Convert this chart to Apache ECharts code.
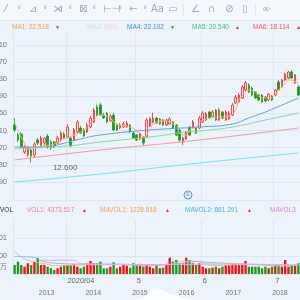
<!DOCTYPE html>
<html>
<head>
<meta charset="utf-8">
<script src="https://cdn.jsdelivr.net/npm/echarts@6/dist/echarts.min.js"></script>
<style>
html, body { margin: 0; padding: 0; background: #ecf3fb; }
#chart { width: 300px; height: 300px; }
</style>
</head>
<body>
<div id="chart"></div>
<script>
// trading days shown (2020)
const marDays = [10, 11, 12, 13, 16, 17, 18, 19, 20, 23, 24, 25, 26, 27, 30, 31];
const aprDays = [1, 2, 3, 6, 7, 8, 9, 13, 14, 15, 16, 17, 20, 21, 22, 23, 24, 27, 28, 29, 30];
const mayDays = [1, 4, 5, 6, 7, 8, 11, 12, 13, 14, 15, 18, 19, 20, 21, 22, 26, 27, 28, 29];
const junDays = [1, 2, 3, 4, 5, 8, 9, 10, 11, 12, 15, 16, 17, 18, 19, 22, 23, 24, 25, 26, 29, 30];
const julDays = [1, 2, 6, 7, 8, 9, 10, 13];
const monthLabels = { '2020-04-01': '2020/04', '2020-05-01': '5', '2020-06-01': '6', '2020-07-01': '7' };

// [open, close, low, high]
const candles = [
    [17.88, 17.18, 16.90, 18.86], [16.48, 15.78, 15.50, 16.76], [16.62, 14.80, 14.66, 16.90], [14.10, 14.80, 13.82, 15.08],
    [13.68, 14.66, 13.40, 14.94], [14.38, 13.54, 12.60, 14.66], [13.68, 15.22, 13.40, 15.50], [15.78, 15.36, 15.08, 16.06],
    [14.94, 16.06, 14.80, 16.34], [15.36, 16.06, 15.08, 16.20], [16.34, 14.80, 14.52, 16.62], [15.50, 14.66, 14.38, 15.78],
    [15.50, 14.94, 14.66, 15.64], [15.36, 16.06, 15.22, 16.34], [15.78, 16.76, 15.50, 17.04], [16.62, 16.06, 15.92, 16.90],
    [16.20, 17.60, 16.06, 18.02], [16.06, 14.94, 14.80, 16.34], [15.78, 17.18, 15.64, 17.46], [16.90, 18.30, 16.76, 18.58],
    [17.46, 16.76, 16.62, 17.74], [17.18, 16.34, 16.20, 17.46], [16.90, 17.88, 16.76, 18.16], [17.60, 18.86, 17.46, 19.14],
    [18.30, 19.98, 18.16, 20.26], [20.40, 19.28, 19.14, 20.68], [20.68, 19.28, 19.14, 20.96], [19.28, 18.86, 18.72, 19.56],
    [19.56, 18.30, 18.16, 19.70], [18.44, 19.14, 18.30, 19.42], [19.28, 17.18, 17.04, 19.56], [17.88, 17.18, 17.04, 18.02],
    [17.46, 17.88, 17.32, 18.16], [17.60, 18.02, 17.46, 18.30], [17.60, 18.16, 17.46, 18.44], [17.88, 16.90, 16.76, 18.02],
    [16.76, 16.06, 15.92, 16.90], [16.48, 15.78, 15.64, 16.62], [15.92, 16.62, 15.78, 16.76], [16.20, 15.36, 15.08, 16.34],
    [16.20, 18.58, 16.06, 18.86], [17.74, 18.72, 17.60, 19.00], [18.30, 18.86, 18.16, 19.56], [18.86, 18.16, 18.02, 19.00],
    [18.02, 18.72, 17.88, 18.86], [18.58, 17.88, 17.74, 18.72], [17.88, 18.58, 17.74, 18.72], [18.02, 18.72, 17.88, 19.00],
    [18.30, 17.46, 17.32, 18.44], [17.88, 16.48, 16.34, 18.02], [17.18, 15.78, 15.50, 17.32], [15.50, 16.06, 15.08, 16.20],
    [15.92, 16.90, 15.78, 17.04], [17.60, 16.48, 16.34, 17.74], [17.60, 18.30, 17.46, 18.58], [17.46, 16.76, 16.62, 17.60],
    [17.46, 18.86, 17.32, 19.14], [18.30, 19.56, 18.16, 19.84], [18.58, 19.42, 18.44, 19.70], [19.70, 18.86, 18.72, 19.84],
    [19.00, 19.70, 18.86, 19.98], [19.98, 18.58, 18.44, 20.12], [18.58, 19.98, 18.44, 20.26], [19.70, 18.86, 18.72, 19.84],
    [18.58, 19.70, 18.44, 19.98], [18.72, 19.56, 18.58, 19.84], [19.28, 20.68, 19.14, 20.96], [20.96, 21.80, 20.82, 22.08],
    [21.10, 22.08, 20.96, 22.36], [21.66, 23.20, 21.52, 23.48], [22.78, 23.76, 22.64, 24.04], [23.48, 22.50, 22.36, 23.76],
    [23.06, 22.08, 21.94, 23.20], [22.50, 21.66, 21.52, 22.64], [22.08, 21.38, 21.24, 22.22], [22.08, 21.10, 20.96, 22.22],
    [21.80, 21.24, 21.10, 21.94], [21.38, 22.22, 21.24, 22.36], [21.94, 21.38, 21.24, 22.08], [22.08, 22.78, 21.94, 22.92],
    [23.90, 22.78, 22.64, 24.18], [23.20, 24.18, 23.06, 24.32], [24.18, 25.02, 24.04, 25.16], [24.46, 25.30, 24.32, 25.44],
    [25.30, 24.46, 24.32, 25.58], [23.76, 24.88, 23.62, 25.02], [23.20, 22.08, 21.94, 23.48]
];

// moving averages as [dayIndex, value]
const ma1 = [[0, 18.30], [3, 15.36], [5, 14.66], [6, 14.66], [8, 14.94], [11, 15.08], [12, 15.22], [14, 15.78], [16, 16.06],
    [18, 16.48], [21, 17.18], [24, 18.58], [26, 19.28], [29, 18.86], [30, 18.30], [32, 17.88], [35, 17.60], [38, 16.76],
    [39, 16.20], [41, 17.18], [42, 18.02], [45, 18.44], [49, 17.74], [50, 16.76], [52, 16.48], [53, 17.18], [55, 17.60],
    [56, 18.30], [59, 18.86], [62, 19.00], [65, 19.14], [67, 19.98], [68, 21.38], [70, 22.36], [71, 22.78], [73, 22.50],
    [74, 21.94], [76, 21.66], [77, 21.66], [79, 22.08], [80, 22.78], [82, 23.62], [83, 24.18], [86, 23.76]];
const ma4 = [[0, 14.80], [10, 14.80], [14, 15.22], [20, 15.92], [26, 16.48], [41, 17.18], [56, 17.60], [66, 18.02], [71, 18.86], [76, 19.70], [86, 21.66]];
const ma5 = [[0, 14.52], [16, 14.94], [26, 15.50], [41, 16.20], [52, 16.90], [56, 17.04], [66, 17.60], [76, 18.58], [86, 19.56]];
const ma6 = [[0, 12.98], [26, 14.38], [56, 15.78], [86, 17.46]];
const ma7 = [[0, 9.90], [26, 11.02], [56, 12.56], [86, 13.96]];

const volumes = [950, 1300, 950, 770, 1130, 950, 1300, 1720, 950, 950, 770, 600, 420, 600, 770, 950, 950, 950, 1020, 770,
    600, 770, 1130, 1370, 1130, 1130, 1300, 600, 600, 770, 1230, 600, 770, 950, 880, 670, 1130, 950, 880, 770,
    950, 770, 600, 950, 600, 670, 950, 1720, 1300, 1480, 1130, 1130, 1720, 1480, 1130, 950, 1130, 770, 600, 600,
    670, 770, 600, 770, 950, 950, 1130, 1020, 950, 950, 1370, 770, 770, 770, 770, 600, 770, 600, 770, 950,
    950, 770, 1480, 770, 950, 950, 1130];
const mavol1 = [[0, 2350], [3, 1600], [6, 1300], [9, 1100], [12, 900], [20, 950], [30, 1000], [40, 900], [47, 1000],
    [50, 1300], [55, 1350], [60, 900], [70, 1000], [75, 950], [80, 850], [86, 950]];
const mavol2 = [[0, 1850], [5, 1800], [9, 1300], [12, 1150], [20, 1050], [30, 1050], [40, 950], [50, 1100], [55, 1300],
    [60, 1200], [70, 1050], [80, 950], [86, 950]];
const mavol3 = [[8, 1450], [18, 1450], [20, 1100], [30, 1000], [50, 1000], [60, 1050], [86, 950]];

const priceTicks = [9.9, 12.3, 14.7, 17.1, 19.5, 21.9, 24.3, 26.7, 29.1];
const volumeTicks = [1900, 3801];
const yearTicks = [2013, 2014, 2015, 2016, 2017, 2018];
const overview = [[2014.9, 0], [2015.1, 0.25], [2015.25, 0.6], [2015.4, 0.7], [2015.55, 0.5], [2015.75, 0.3], [2016.0, 0.1], [2016.3, 0]];

const maLegend = [
    { text: 'MA1: 22.518', color: '#f0a050', x: 12, w: 40, arrow: 'down' },
    { text: 'MA2:', color: '#c9e3f6', x: 87 },
    { text: 'MA3:', color: '#f0d0ec', x: 104 },
    { text: 'MA4: 22.102', color: '#3d86f0', x: 127, w: 40, arrow: 'down' },
    { text: 'MA5: 20.540', color: '#4cc27a', x: 192, w: 40, arrow: 'up' },
    { text: 'MA6: 18.114', color: '#f05a5a', x: 253, w: 40, arrow: 'up' }
];
const volLegend = [
    { text: 'VOL', color: '#333', x: 0 },
    { text: 'VOL1: 4373.517', color: '#f07f8f', x: 27, w: 52, arrow: 'up' },
    { text: 'MAVOL1: 1228.818', color: '#f0a050', x: 100, w: 62, arrow: 'up' },
    { text: 'MAVOL2: 861.291', color: '#4fb0ee', x: 185, w: 59, arrow: 'up' },
    { text: 'MAVOL3', color: '#e07ce0', x: 270 }
];
const toolIcons = [
    ['⁄', 5], ['∨', 17], ['⊿', 29], ['∨', 43], ['⋊', 53], ['∨', 68], ['⊠', 79], ['∨', 92],
    ['⊢⊣', 103], ['∨', 118], ['←', 129], ['∨', 143], ['Aa', 151], ['▭', 168], ['∠', 191], ['∩', 208],
    ['⊘', 225], ['▯', 242], ['∞', 262]
];

const dates = [].concat(
    marDays.map(d => '2020-03-' + String(d).padStart(2, '0')),
    aprDays.map(d => '2020-04-' + String(d).padStart(2, '0')),
    mayDays.map(d => '2020-05-' + String(d).padStart(2, '0')),
    junDays.map(d => '2020-06-' + String(d).padStart(2, '0')),
    julDays.map(d => '2020-07-' + String(d).padStart(2, '0'))
);

const FONT = 'Liberation Sans';
const gridLine = '#dbe7f4';
const upColor = '#f22';
const downColor = '#1d9a1d';
const isMonthStart = (idx, value) => monthLabels[value] !== undefined;

function legendTexts(items, y) {
    const out = [];
    items.forEach(item => {
        out.push({
            type: 'text', left: item.x, top: y,
            style: { text: item.text, fill: item.color, font: '6.5px ' + FONT }
        });
        if (item.arrow) {
            out.push({
                type: 'text', left: item.x + item.w + 3, top: y + 1,
                style: { text: item.arrow === 'up' ? '▲' : '▼', fill: item.arrow === 'up' ? '#f22' : '#1d9a1d', font: '5px ' + FONT }
            });
        }
    });
    return out;
}

const chart = echarts.init(document.getElementById('chart'));

const graphic = [
    { type: 'rect', left: 0, top: 0, shape: { width: 300, height: 20 }, style: { fill: '#f4f7fb' }, z: -1 },
    { type: 'line', shape: { x1: 0, y1: 20.5, x2: 300, y2: 20.5 }, style: { stroke: '#dfe7f1', lineWidth: 1 } },
    { type: 'line', shape: { x1: 183.5, y1: 4, x2: 183.5, y2: 16 }, style: { stroke: '#dfe7f1', lineWidth: 1 } },
    { type: 'line', shape: { x1: 255.5, y1: 4, x2: 255.5, y2: 16 }, style: { stroke: '#dfe7f1', lineWidth: 1 } },
    { type: 'line', shape: { x1: 13, y1: 200.5, x2: 300, y2: 200.5 }, style: { stroke: gridLine, lineWidth: 1 } },
    { type: 'circle', shape: { cx: 188, cy: 195, r: 4 }, style: { fill: '#e3eefb', stroke: '#5b9ae6', lineWidth: 1 } },
    { type: 'text', x: 188, y: 195, style: { text: 'E', fill: '#5b9ae6', font: '5px ' + FONT, align: 'center', verticalAlign: 'middle' } },
    { type: 'text', left: 0, top: 263, style: { text: '万', fill: '#777', font: '7px "Noto Sans CJK SC"' } }
];
toolIcons.forEach(([t, x]) => {
    graphic.push({ type: 'text', left: x, top: 4, style: { text: t, fill: '#9aa8b8', font: (t === '∨' ? '6px ' : '10px ') + 'DejaVu Sans' } });
});
legendTexts(maLegend, 24).forEach(g => graphic.push(g));
legendTexts(volLegend, 207).forEach(g => graphic.push(g));

chart.setOption({
    backgroundColor: '#ecf3fb',
    animation: false,
    textStyle: { fontFamily: FONT },
    graphic: graphic,
    grid: [
        { left: 13, right: 0, top: 33, height: 167, containLabel: false, outerBoundsMode: 'none' },
        { left: 13, right: 0, top: 220, height: 54, containLabel: false, outerBoundsMode: 'none' },
        { left: 13, right: 0, top: 284, height: 16, containLabel: false, outerBoundsMode: 'none' }
    ],
    xAxis: [
        {
            type: 'category', gridIndex: 0, data: dates, boundaryGap: true,
            axisLine: { show: false }, axisTick: { show: false, interval: isMonthStart }, axisLabel: { show: false, interval: isMonthStart },
            splitLine: { show: true, interval: isMonthStart, lineStyle: { color: gridLine } }
        },
        {
            type: 'category', gridIndex: 1, data: dates, boundaryGap: true,
            axisLine: { show: true, lineStyle: { color: gridLine } }, axisTick: { show: false, interval: isMonthStart },
            axisLabel: {
                interval: isMonthStart, formatter: v => monthLabels[v] || '', color: '#666', fontSize: 7.5,
                align: 'left', margin: 3
            },
            splitLine: { show: true, interval: isMonthStart, lineStyle: { color: gridLine } }
        },
        {
            type: 'value', gridIndex: 2, min: 2012.28, max: 2018.43,
            axisLine: { show: true, lineStyle: { color: '#d6e1ee' } },
            axisTick: { show: false, customValues: yearTicks },
            axisLabel: { inside: true, customValues: yearTicks, formatter: v => String(Math.round(v)), color: '#777', fontSize: 7, margin: 3 },
            splitLine: { show: false }
        }
    ],
    yAxis: [
        {
            type: 'value', gridIndex: 0, min: 7.38, max: 30.76,
            axisLine: { show: true, lineStyle: { color: gridLine } },
            axisTick: { show: false, customValues: priceTicks },
            axisLabel: { customValues: priceTicks, formatter: v => v.toFixed(2), color: '#777', fontSize: 7.5, margin: 6 },
            splitLine: { show: true, lineStyle: { color: gridLine } }
        },
        {
            type: 'value', gridIndex: 1, min: 0, max: 5700,
            axisLine: { show: true, lineStyle: { color: gridLine } },
            axisTick: { show: false, customValues: volumeTicks },
            axisLabel: { customValues: volumeTicks, formatter: v => String(v), color: '#777', fontSize: 7.5, margin: 6 },
            splitLine: { show: true, lineStyle: { color: gridLine } }
        },
        {
            type: 'value', gridIndex: 2, min: 0, max: 1, show: false
        }
    ],
    series: [
        {
            name: 'K', type: 'candlestick', xAxisIndex: 0, yAxisIndex: 0, data: candles, barWidth: '62%',
            itemStyle: { color: '#fde6e6', color0: downColor, borderColor: upColor, borderColor0: downColor, borderWidth: 0.8 },
            markPoint: {
                symbol: 'circle', symbolSize: 0,
                data: [{ type: 'min', valueDim: 'lowest' }],
                label: { show: true, formatter: p => Number(p.value).toFixed(3), color: '#666', fontSize: 8, offset: [34, 5] }
            }
        },
        { name: 'MA1', type: 'line', xAxisIndex: 0, yAxisIndex: 0, data: ma1, smooth: true, showSymbol: false, lineStyle: { color: '#f7b77e', width: 1 } },
        { name: 'MA4', type: 'line', xAxisIndex: 0, yAxisIndex: 0, data: ma4, smooth: true, showSymbol: false, lineStyle: { color: '#5aa0f0', width: 1 } },
        { name: 'MA5', type: 'line', xAxisIndex: 0, yAxisIndex: 0, data: ma5, smooth: true, showSymbol: false, lineStyle: { color: '#86d9a6', width: 1 } },
        { name: 'MA6', type: 'line', xAxisIndex: 0, yAxisIndex: 0, data: ma6, smooth: true, showSymbol: false, lineStyle: { color: '#f29a9a', width: 1 } },
        { name: 'MA7', type: 'line', xAxisIndex: 0, yAxisIndex: 0, data: ma7, smooth: true, showSymbol: false, lineStyle: { color: '#6fe6f2', width: 1 } },
        {
            name: 'VOL', type: 'bar', xAxisIndex: 1, yAxisIndex: 1, data: volumes, barWidth: '72%',
            itemStyle: { color: p => candles[p.dataIndex][1] >= candles[p.dataIndex][0] ? '#f01414' : '#1f9a1f' }
        },
        { name: 'MAVOL1', type: 'line', xAxisIndex: 1, yAxisIndex: 1, data: mavol1, smooth: true, showSymbol: false, lineStyle: { color: '#f5b77a', width: 1 } },
        { name: 'MAVOL2', type: 'line', xAxisIndex: 1, yAxisIndex: 1, data: mavol2, smooth: true, showSymbol: false, lineStyle: { color: '#7cc6f0', width: 1 } },
        { name: 'MAVOL3', type: 'line', xAxisIndex: 1, yAxisIndex: 1, data: mavol3, smooth: true, showSymbol: false, lineStyle: { color: '#eaa6ea', width: 1 } },
        {
            name: 'overview', type: 'line', xAxisIndex: 2, yAxisIndex: 2, data: overview, smooth: true, showSymbol: false,
            lineStyle: { width: 0 }, areaStyle: { color: '#ffffff', opacity: 0.9 }
        }
    ]
});
</script>
</body>
</html>
